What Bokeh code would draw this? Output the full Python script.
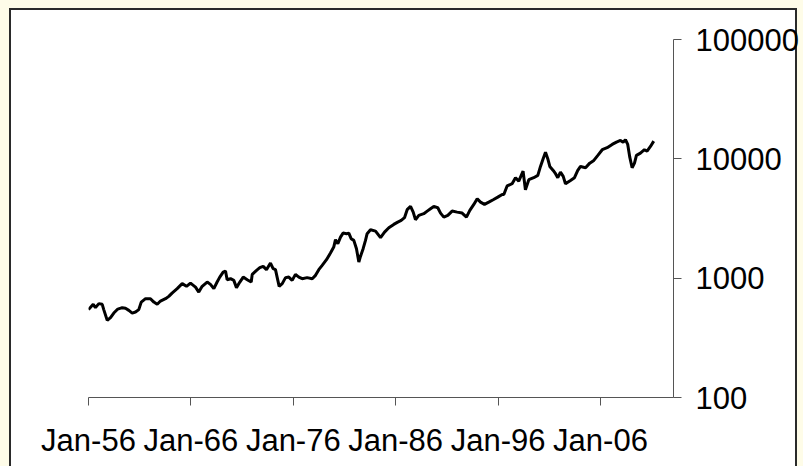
from bokeh.plotting import figure
from bokeh.models import Range1d, FixedTicker, NumeralTickFormatter, InlineStyleSheet
from bokeh.embed import file_html
from bokeh.resources import INLINE

# Index level (log scale); x in decimal years
years = [1956.00, 1956.46, 1956.68, 1957.01, 1957.34, 1957.49, 1957.83, 1958.15, 1958.47, 1958.86,
         1959.29, 1959.61, 1959.94, 1960.27, 1960.59, 1960.91, 1961.15, 1961.57, 1962.05, 1962.38,
         1962.71, 1963.03, 1963.52, 1963.84, 1964.16, 1964.66, 1965.15, 1965.57, 1965.96, 1966.45,
         1966.77, 1967.10, 1967.59, 1967.91, 1968.24, 1968.56, 1968.82, 1969.15, 1969.38, 1969.54,
         1969.87, 1970.19, 1970.45, 1970.78, 1971.11, 1971.50, 1971.89, 1971.99, 1972.41, 1972.73,
         1973.06, 1973.38, 1973.77, 1974.03, 1974.26, 1974.49, 1974.62, 1974.92, 1975.24, 1975.56,
         1975.89, 1976.21, 1976.54, 1976.87, 1977.35, 1977.85, 1978.17, 1978.49, 1978.82, 1979.24,
         1979.63, 1979.95, 1980.12, 1980.35, 1980.61, 1980.86, 1981.20, 1981.42, 1981.65, 1981.91,
         1982.17, 1982.40, 1982.56, 1982.82, 1983.05, 1983.21, 1983.54, 1984.03, 1984.52, 1984.91,
         1985.33, 1985.81, 1986.20, 1986.54, 1986.86, 1987.12, 1987.45, 1987.71, 1987.93, 1988.26,
         1988.74, 1989.08, 1989.40, 1989.72, 1990.11, 1990.38, 1990.70, 1991.09, 1991.51, 1992.00,
         1992.49, 1992.91, 1993.24, 1993.63, 1993.96, 1994.28, 1994.67, 1995.09, 1995.52, 1995.97,
         1996.40, 1996.56, 1996.88, 1997.37, 1997.70, 1998.02, 1998.44, 1998.67, 1999.00, 1999.48,
         1999.88, 2000.14, 2000.40, 2000.63, 2000.85, 2001.05, 2001.38, 2001.61, 2001.83, 2002.09,
         2002.36, 2002.58, 2003.07, 2003.46, 2003.78, 2004.05, 2004.54, 2004.95, 2005.35, 2005.74,
         2006.17, 2006.65, 2007.14, 2007.56, 2007.95, 2008.21, 2008.44, 2008.66, 2008.86, 2009.09,
         2009.32, 2009.51, 2009.90, 2010.29, 2010.55, 2010.88, 2011.20]
values = [545, 604, 566, 612, 604, 545, 443, 467, 510, 551,
          566, 559, 537, 510, 520, 545, 630, 673, 673, 630,
          604, 643, 673, 704, 750, 817, 900, 854, 910, 842,
          765, 854, 928, 887, 817, 928, 1021, 1125, 1147, 971,
          990, 958, 833, 928, 1021, 971, 928, 1076, 1162, 1224,
          1256, 1178, 1338, 1201, 1178, 958, 854, 900, 1010, 1021,
          958, 1076, 1021, 990, 1010, 990, 1056, 1178, 1280, 1428,
          1623, 1822, 2101, 1945, 2209, 2386, 2359, 2386, 2142, 2073,
          1766, 1364, 1522, 1766, 2073, 2359, 2548, 2480, 2184, 2433,
          2648, 2822, 2950, 3049, 3212, 3748, 3993, 3578, 3090, 3357,
          3469, 3648, 3820, 3993, 3895, 3510, 3249, 3357, 3648, 3578,
          3510, 3249, 3696, 4151, 4633, 4338, 4151, 4338, 4544, 4778,
          5033, 5033, 5929, 6187, 6945, 6504, 7889, 5510, 6683, 6945,
          7261, 8636, 10020, 11380, 10020, 8636, 7995, 7503, 6945, 7738,
          7122, 6187, 6593, 6945, 7995, 8636, 8424, 9204, 9696, 10680,
          11920, 12390, 13200, 13800, 14260, 13800, 14450, 13200, 10330, 8424,
          9204, 10680, 11160, 11920, 11600, 12700, 14070]

x_tick_years = [1956, 1966, 1976, 1986, 1996, 2006]
x_tick_labels = ["Jan-56", "Jan-66", "Jan-76", "Jan-86", "Jan-96", "Jan-06"]
y_ticks = [100, 1000, 10000, 100000]

p = figure(width=803, height=466, output_backend="svg", toolbar_location=None,
           y_axis_type="log", y_axis_location="right",
           x_range=Range1d(1956, 2013.13), y_range=Range1d(100, 100000),
           min_border_left=88, min_border_right=130, min_border_top=39, min_border_bottom=69)

p.border_fill_color = None
p.background_fill_color = "white"
p.outline_line_color = None
p.grid.visible = False

# chart-area frame: dark border with pale pattern-coloured surround, drawn behind the plot
p.stylesheets = [InlineStyleSheet(css="""
:host { position: relative; isolation: isolate; background: white; }
:host::after {
  content: ""; position: absolute; left: 9px; top: 8px; z-index: -1;
  width: 784px; height: 480px;
  border: 2px solid #2a2a2a; box-shadow: 0 0 0 40px #fefce8;
  pointer-events: none;
}
""")]

p.line(years, values, line_color="black", line_width=3)

font = "Liberation Sans"
xa = p.xaxis[0]
xa.ticker = FixedTicker(ticks=x_tick_years)
xa.major_label_overrides = {y: l for y, l in zip(x_tick_years, x_tick_labels)}
ya = p.yaxis[0]
ya.ticker = FixedTicker(ticks=y_ticks)
ya.formatter = NumeralTickFormatter(format="0")

for ax in (xa, ya):
    ax.axis_line_color = "#555555"
    ax.axis_line_width = 1
    ax.major_tick_line_color = "#555555"
    ax.major_tick_out = 8
    ax.major_tick_in = 0
    ax.minor_tick_out = 0
    ax.minor_tick_in = 0
    ax.major_label_text_font = font
    ax.major_label_text_font_size = "31px"
    ax.major_label_text_color = "black"
xa.major_label_standoff = 17
ya.major_label_standoff = 14

open("out.html", "w").write(file_html(p, INLINE))
